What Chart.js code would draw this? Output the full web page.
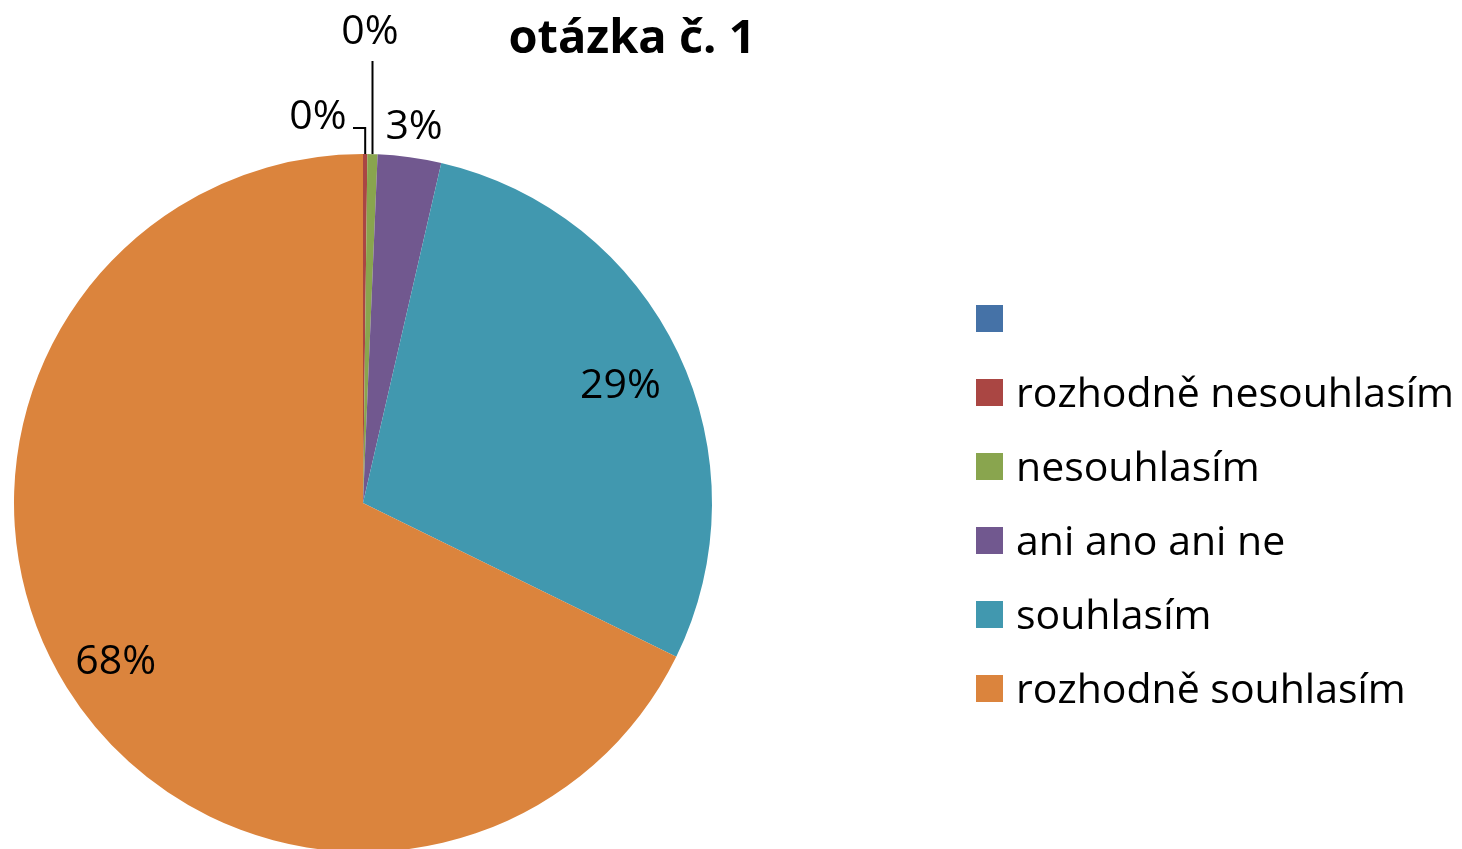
<!DOCTYPE html>
<html>
<head>
<meta charset="utf-8">
<script src="https://cdn.jsdelivr.net/npm/chart.js@4.4.1/dist/chart.umd.min.js"></script>
<style>
  html, body { margin: 0; padding: 0; background: #fff; overflow: hidden; }
  #wrap { position: absolute; left: 0; top: 0; width: 1462px; height: 900px; }
</style>
</head>
<body>
<div id="wrap"><canvas id="c" width="1462" height="900"></canvas></div>
<script>
// ---- data ----
const title = 'otázka č. 1';
const categories = ['', 'rozhodně nesouhlasím', 'nesouhlasím', 'ani ano ani ne', 'souhlasím', 'rozhodně souhlasím'];
const counts = [0, 3, 7, 44, 430, 1016];
const colors = ['#4572A7', '#AA4643', '#89A54E', '#71588F', '#4198AF', '#DB843D'];

// label placement styles (per slice): inside / outside / leader
const labelStyles = [
  null,
  { mode: 'leaderH', tx: 318, ty: 117, hx: 353, hy: 128 },
  { mode: 'leaderV', tx: 370, ty: 32, topY: 61 },
  { mode: 'radial', r: 1.095, dy: 3 },
  { mode: 'radial', r: 0.817, dy: 6 },
  { mode: 'radial', r: 0.835, dy: 5 }
];

const FONT = '"Open Sans", "Noto Sans", sans-serif';

const overlay = {
  id: 'overlay',
  afterDraw(chart) {
    const ctx = chart.ctx;
    const meta = chart.getDatasetMeta(0);
    const data = chart.data.datasets[0].data;
    const total = data.reduce((a, b) => a + b, 0);
    ctx.save();
    // title
    ctx.fillStyle = '#000';
    ctx.font = 'bold 47px ' + FONT;
    ctx.textAlign = 'center';
    ctx.textBaseline = 'alphabetic';
    ctx.fillText(title, 632, 53);

    // data labels
    ctx.font = '41px ' + FONT;
    ctx.textBaseline = 'middle';
    meta.data.forEach((arc, i) => {
      const st = labelStyles[i];
      if (!st) return;
      const p = arc.getProps(['x', 'y', 'startAngle', 'endAngle', 'outerRadius'], true);
      const mid = (p.startAngle + p.endAngle) / 2;
      const txt = Math.round(data[i] / total * 100) + '%';
      ctx.fillStyle = '#000';
      if (st.mode === 'radial') {
        const r = p.outerRadius * st.r;
        ctx.fillText(txt, p.x + Math.cos(mid) * r, p.y + Math.sin(mid) * r + st.dy);
      } else {
        const ex = p.x + Math.cos(mid) * p.outerRadius;
        const ey = p.y + Math.sin(mid) * p.outerRadius;
        ctx.strokeStyle = '#000';
        ctx.lineWidth = 2;
        ctx.beginPath();
        ctx.moveTo(ex, ey);
        if (st.mode === 'leaderV') {
          ctx.lineTo(ex, st.topY);
        } else {
          ctx.lineTo(ex, st.hy);
          ctx.lineTo(st.hx, st.hy);
        }
        ctx.stroke();
        ctx.fillText(txt, st.tx, st.ty);
      }
    });

    // legend
    ctx.font = '41px ' + FONT;
    ctx.textAlign = 'left';
    ctx.textBaseline = 'alphabetic';
    chart.data.labels.forEach((lab, i) => {
      const top = 305 + i * 74;
      ctx.fillStyle = colors[i];
      ctx.fillRect(976, top, 27, 27);
      ctx.fillStyle = '#000';
      ctx.fillText(lab, 1016, top + 28);
    });
    ctx.restore();
  }
};

new Chart(document.getElementById('c'), {
  type: 'pie',
  data: {
    labels: categories,
    datasets: [{
      data: counts,
      backgroundColor: colors,
      borderWidth: 0
    }]
  },
  options: {
    responsive: false,
    animation: false,
    devicePixelRatio: 1,
    layout: { padding: { left: 14, top: 154, right: 750, bottom: 48 } },
    plugins: {
      legend: { display: false },
      tooltip: { enabled: false },
      title: { display: false }
    }
  },
  plugins: [overlay]
});
</script>
</body>
</html>
